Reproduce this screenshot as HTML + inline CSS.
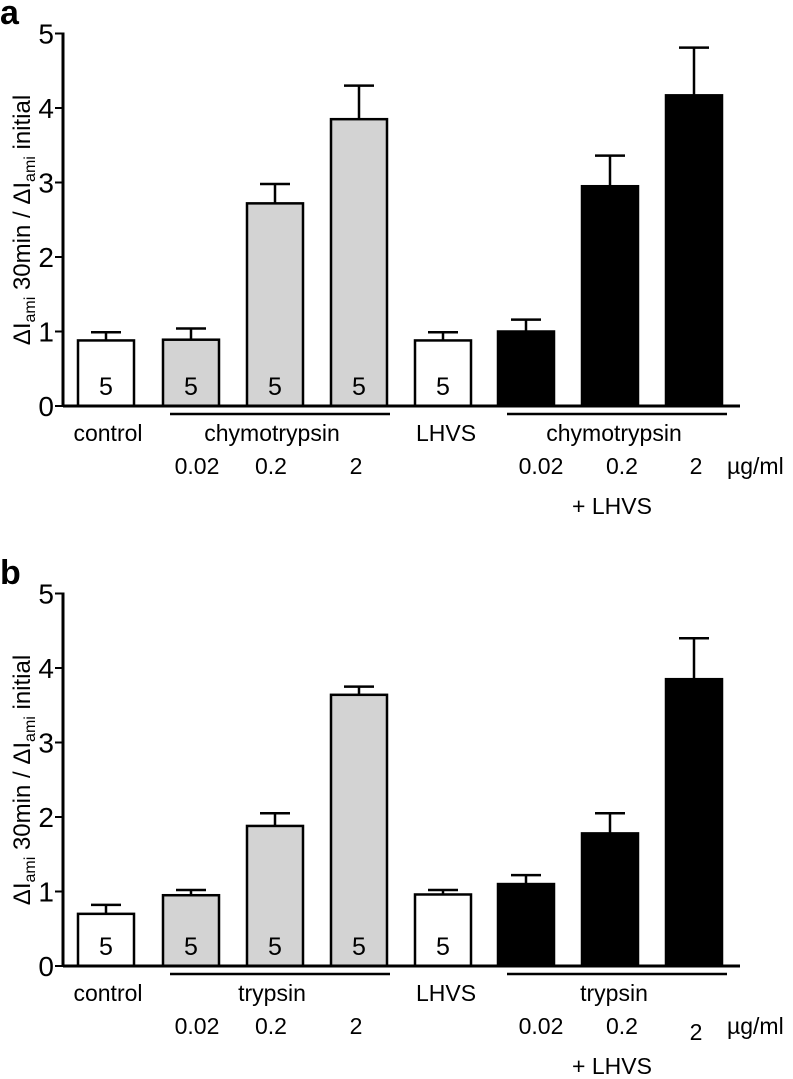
<!DOCTYPE html>
<html><head><meta charset="utf-8"><style>
html,body{margin:0;padding:0;background:#fff;}
svg text{font-family:"Liberation Sans",Arial,sans-serif;fill:#000;}
</style></head><body>
<svg id="chart" width="793" height="1074" viewBox="0 0 793 1074" xmlns="http://www.w3.org/2000/svg"></svg>
<script>
const barLefts = [78,163,247,331,415,498,582,666];
const fills = ['#fff','#d3d3d3','#d3d3d3','#d3d3d3','#fff','#000','#000','#000'];
const tickLabels = ['0','1','2','3','4','5'];
const aValues = [0.88,0.89,2.72,3.85,0.88,1.00,2.95,4.17];
const aErrors = [0.11,0.15,0.26,0.45,0.11,0.16,0.41,0.64];
const aN = ['5','5','5','5','5','5','5','5'];
const bValues = [0.70,0.95,1.88,3.64,0.96,1.10,1.78,3.85];
const bErrors = [0.12,0.07,0.17,0.11,0.06,0.12,0.27,0.55];
const bN = ['5','5','5','5','5','5','6','5'];
const NS='http://www.w3.org/2000/svg';
const svg=document.getElementById('chart');
function mk(tag,attrs,parent){const e=document.createElementNS(NS,tag);for(const k in attrs)e.setAttribute(k,attrs[k]);(parent||svg).appendChild(e);return e;}
function txt(s,x,y,size,anchor,parent,fill){const t=mk('text',{x:x,y:y,'font-size':size,'text-anchor':anchor||'middle'},parent);if(fill)t.setAttribute('fill',fill);t.textContent=s;return t;}
function panel(off,letter,values,errors,ns,drug,doseY2){
  const g=mk('g',{});
  
  
  const y0=406+off, unit=74.5, ax=63;
  const ys=v=>y0-v*unit;
  const L=txt(letter,0,24+off,34,'start',g);L.setAttribute('font-weight','bold');
  
  
  const ya=mk('line',{x1:ax,y1:ys(5)-1,x2:ax,y2:y0+1,stroke:'#000','stroke-width':3},g);
  
  
  tickLabels.forEach((t,i)=>{
    mk('line',{x1:ax-8,y1:ys(+t),x2:ax,y2:ys(+t),stroke:'#000','stroke-width':2},g);
    const tl=txt(t,54,ys(+t)+10,28,'end',g);
    
    
  });
  values.forEach((v,i)=>{
    const x=barLefts[i],w=56,cx=x+w/2;
    const top=ys(v+errors[i]);
    const eb=mk('line',{x1:cx,y1:top,x2:cx,y2:ys(v),stroke:'#000','stroke-width':2.5},g);
    
    
    mk('line',{x1:cx-15,y1:top,x2:cx+15,y2:top,stroke:'#000','stroke-width':2.5},g);
    const r=mk('rect',{x:x,y:ys(v),width:w,height:y0-ys(v),fill:fills[i],stroke:'#000','stroke-width':2.5},g);
    
    
    const n=txt(ns[i],cx,y0-11,25,'middle',g,fills[i]=='#000'?'#fff':'#000');
    
    
  });
  const xa=mk('line',{x1:ax,y1:y0,x2:740,y2:y0,stroke:'#000','stroke-width':3},g);
  
  
  mk('line',{x1:170,y1:y0+8,x2:390,y2:y0+8,stroke:'#000','stroke-width':2.5},g);
  mk('line',{x1:507,y1:y0+8,x2:727,y2:y0+8,stroke:'#000','stroke-width':2.5},g);
  const fs=23;
  txt('control',108,y0+35,fs,'middle',g);
  txt(drug,272,y0+35,fs,'middle',g);
  txt('LHVS',446,y0+35,fs,'middle',g);
  txt(drug,614,y0+35,fs,'middle',g);
  txt('0.02',197,y0+68,fs,'middle',g);
  txt('0.2',271,y0+68,fs,'middle',g);
  txt('2',356,y0+68,fs,'middle',g);
  txt('0.02',541,y0+68,fs,'middle',g);
  txt('0.2',622,y0+68,fs,'middle',g);
  txt('2',696,y0+doseY2,fs,'middle',g);
  txt('µg/ml',727,y0+68,fs,'start',g);
  txt('+ LHVS',612,y0+108,fs,'middle',g);
  const yt=mk('text',{x:0,y:0,'font-size':24,'text-anchor':'middle',transform:'translate(30,'+(220+off)+') rotate(-90)'},g);
  
  
  yt.innerHTML='ΔI<tspan font-size="16" dy="5">ami</tspan><tspan dy="-5"> 30min / ΔI</tspan><tspan font-size="16" dy="5">ami</tspan><tspan dy="-5"> initial</tspan>';
}
panel(0,'a',aValues,aErrors,aN,'chymotrypsin',68);
panel(560,'b',bValues,bErrors,bN,'trypsin',74);
</script>
</body></html>
